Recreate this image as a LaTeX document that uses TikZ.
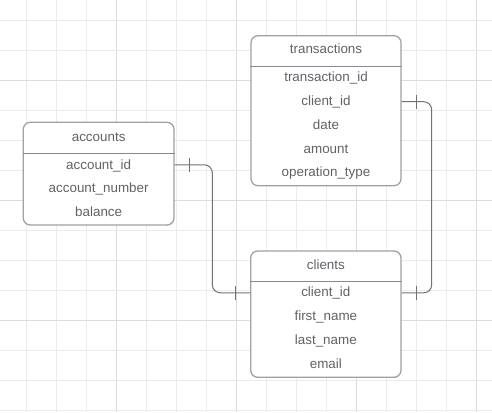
\documentclass[tikz,border=0pt]{standalone}
\usepackage{fontspec}
\setmainfont{Liberation Sans}
\definecolor{gridminor}{HTML}{EBEBEB}
\definecolor{gridmajor}{HTML}{DCDCDC}
\definecolor{boxline}{HTML}{9EA1A6}
\definecolor{sepline}{HTML}{858990}
\definecolor{connline}{HTML}{6E7279}
\definecolor{txt}{HTML}{5F6368}
\tikzset{
  entity/.style={draw=boxline, line width=1.3pt, fill=white, rounded corners=7pt, inner sep=0pt},
  field/.style={inner sep=0pt, text height=9.4pt, text depth=0pt, text=txt, font=\fontsize{13.4}{15}\selectfont},
  sepl/.style={draw=sepline, line width=1pt},
  conn/.style={draw=connline, line width=1pt},
  tick/.style={draw=connline, line width=1pt},
}
\begin{document}
\begin{tikzpicture}[x=1pt, y=-1pt]
\useasboundingbox (0,0) rectangle (492,412);
% grid
\foreach \i in {0,...,15} {
  \pgfmathsetmacro{\xx}{26.7+30*\i}
  \pgfmathtruncatemacro{\m}{mod(\i,4)}
  \ifnum\m=3 \draw[gridmajor, line width=1pt] (\xx,0) -- (\xx,412);
  \else \draw[gridminor, line width=1pt] (\xx,0) -- (\xx,412); \fi
}
\foreach \j in {0,...,13} {
  \pgfmathsetmacro{\yy}{20.7+30*\j}
  \pgfmathtruncatemacro{\m}{mod(\j,4)}
  \ifnum\m=2 \draw[gridmajor, line width=1pt] (0,\yy) -- (492,\yy);
  \else \draw[gridminor, line width=1pt] (0,\yy) -- (492,\yy); \fi
}
% accounts
\node[entity, minimum width=150.7pt, minimum height=102.7pt] (acc) at (98.65,173.65) {};
\draw[sepl] (acc.west |- 0,153) -- (acc.east |- 0,153);
\node[field] (acct) at (98.65,136.7) {accounts};
\node[field] (aid) at (98.65,164.3) {account\_id};
\node[field] (anum) at (98.65,188.0) {account\_number};
\node[field] (abal) at (98.65,211.7) {balance};
% transactions
\node[entity, minimum width=150pt, minimum height=150pt] (tra) at (326,110.7) {};
\draw[sepl] (tra.west |- 0,66.3) -- (tra.east |- 0,66.3);
\node[field] (trat) at (326,49.2) {transactions};
\node[field] (tid) at (326,76.7) {transaction\_id};
\node[field] (tcid) at (326,100.7) {client\_id};
\node[field] (tdate) at (326,124.4) {date};
\node[field] (tamt) at (326,148.3) {amount};
\node[field] (top) at (326,171.9) {operation\_type};
% clients
\node[entity, minimum width=150.3pt, minimum height=126.3pt] (cli) at (325.85,314.15) {};
\draw[sepl] (cli.west |- 0,281) -- (cli.east |- 0,281);
\node[field] (clit) at (325.85,264.4) {clients};
\node[field] (cid) at (325.85,291.8) {client\_id};
\node[field] (cfn) at (325.85,315.7) {first\_name};
\node[field] (cln) at (325.85,339.4) {last\_name};
\node[field] (cem) at (325.85,363.3) {email};
% connectors
\coordinate (j1) at (212.3,0);
\coordinate (j2) at (431.7,0);
\draw[conn, rounded corners=8pt] ([yshift=-0.5pt]acc.east |- aid) -| ([yshift=-1pt]j1 |- cid) -- ([yshift=-1pt]cli.west |- cid);
\draw[conn, rounded corners=8pt] ([yshift=-1pt]tra.east |- tcid) -| ([yshift=-1pt]j2 |- cid) -- ([yshift=-1pt]cli.east |- cid);
% ticks
\draw[tick] ([xshift=14.7pt,yshift=-0.5pt]acc.east |- aid) ++(0,-7) -- ++(0,14);
\draw[tick] ([xshift=-14.7pt,yshift=-1pt]cli.west |- cid) ++(0,-7) -- ++(0,14);
\draw[tick] ([xshift=15pt,yshift=-1pt]tra.east |- tcid) ++(0,-7) -- ++(0,14);
\draw[tick] ([xshift=15pt,yshift=-1pt]cli.east |- cid) ++(0,-7) -- ++(0,14);
\end{tikzpicture}
\end{document}
